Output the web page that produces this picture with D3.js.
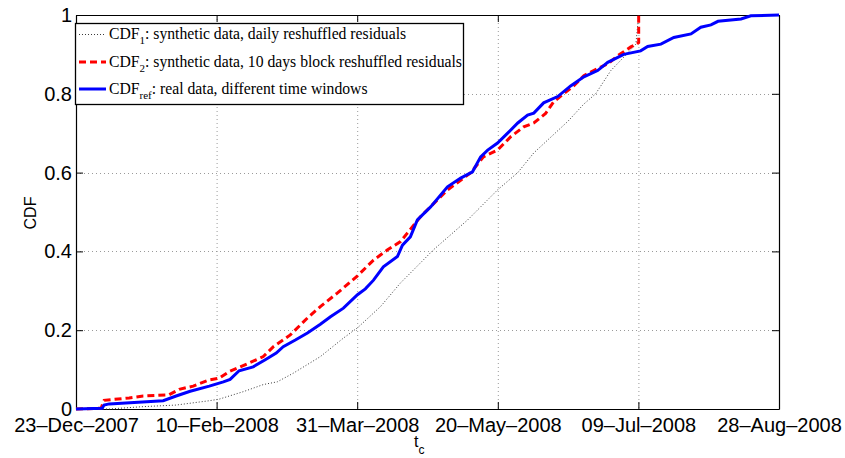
<!DOCTYPE html>
<html>
<head>
<meta charset="utf-8">
<script src="https://cdn.jsdelivr.net/npm/d3@7"></script>
<style>
  html, body { margin: 0; padding: 0; background: #fff; }
  svg { display: block; }
</style>
</head>
<body>
<svg id="chart" width="845" height="458"></svg>
<script>
// ---- Data (x in days since 23-Dec-2007) ----
const xTickDays = [0, 50, 100, 150, 200, 250];
const xTickLabels = ["23\u2013Dec\u20132007", "10\u2013Feb\u20132008", "31\u2013Mar\u20132008", "20\u2013May\u20132008", "09\u2013Jul\u20132008", "28\u2013Aug\u20132008"];
const yTickValues = [0, 0.2, 0.4, 0.6, 0.8, 1];
const yTickLabels = ["0", "0.2", "0.4", "0.6", "0.8", "1"];

const cdf1Days = [0, 11.8, 23.9, 35.6, 47.4, 50.9, 59.5, 66.6, 71.6, 77.3, 86.9, 95.1, 100.1, 108.3, 115.4, 118.9, 127.1, 139.3, 149.9, 157.1, 162.8, 174.9, 180.6, 184.8, 190.2, 194.8, 199.1, 200.1];
const cdf1Vals = [0, 0.0, 0.006, 0.01, 0.021, 0.025, 0.044, 0.062, 0.069, 0.091, 0.133, 0.18, 0.206, 0.26, 0.32, 0.345, 0.404, 0.48, 0.556, 0.6, 0.65, 0.73, 0.774, 0.8, 0.859, 0.893, 0.926, 1.0];

const cdf2Days = [0, 8.9, 10.0, 18.9, 23.9, 33.1, 36.7, 41.7, 47.4, 50.9, 54.5, 61.6, 66.6, 70.2, 76.2, 82.3, 86.9, 92.9, 100.1, 105.8, 110.8, 115.4, 117.9, 122.5, 132.1, 140.3, 144.9, 149.9, 154.6, 159.2, 162.8, 167.0, 169.9, 173.4, 177.0, 180.6, 186.6, 189.1, 192.7, 197.3, 199.4, 200.1, 200.1];
const cdf2Vals = [0, 0.002, 0.022, 0.028, 0.033, 0.036, 0.05, 0.058, 0.074, 0.078, 0.095, 0.117, 0.133, 0.158, 0.188, 0.231, 0.26, 0.294, 0.338, 0.378, 0.404, 0.425, 0.447, 0.488, 0.556, 0.599, 0.64, 0.657, 0.691, 0.716, 0.726, 0.75, 0.78, 0.80, 0.82, 0.846, 0.868, 0.876, 0.897, 0.919, 0.926, 0.93, 1.0];

const cdfRefDays = [0, 9.3, 10.0, 11.8, 19.2, 31.0, 35.6, 40.6, 47.4, 52.4, 54.8, 58.0, 63.0, 67.3, 71.2, 73.7, 78.0, 82.3, 86.9, 90.5, 95.1, 100.1, 102.9, 105.8, 109.3, 114.3, 116.1, 118.9, 121.4, 126.1, 132.1, 136.8, 141.0, 143.9, 146.4, 149.9, 153.5, 157.1, 160.6, 162.8, 166.3, 171.3, 175.9, 180.6, 185.5, 189.1, 194.8, 200.8, 203.3, 208.0, 212.6, 218.7, 222.2, 225.8, 228.3, 236.5, 240.0, 250];
const cdfRefVals = [0, 0.002, 0.01, 0.013, 0.016, 0.021, 0.033, 0.045, 0.058, 0.069, 0.075, 0.097, 0.107, 0.125, 0.142, 0.158, 0.175, 0.193, 0.215, 0.234, 0.256, 0.29, 0.305, 0.327, 0.361, 0.387, 0.416, 0.437, 0.48, 0.513, 0.564, 0.586, 0.602, 0.64, 0.657, 0.675, 0.70, 0.726, 0.746, 0.751, 0.777, 0.793, 0.82, 0.843, 0.859, 0.88, 0.90, 0.909, 0.92, 0.926, 0.943, 0.952, 0.969, 0.975, 0.984, 0.99, 0.998, 1.0];

const legendMain = ["CDF", "CDF", "CDF"];
const legendSubs = ["1", "2", "ref"];
const legendRest = [": synthetic data, daily reshuffled residuals", ": synthetic data, 10 days block reshuffled residuals", ": real data, different time windows"];

// ---- Layout ----
const L = 76, R = 779, T = 15, B = 409;
const svg = d3.select("#chart");
const x = d3.scaleLinear().domain([0, 250]).range([L, R]);
const y = d3.scaleLinear().domain([0, 1]).range([B, T]);

// grid
const grid = svg.append("g").attr("stroke", "#9a9a9a").attr("stroke-width", 1).attr("stroke-dasharray", "1,3");
xTickDays.slice(1, -1).forEach(d => {
  grid.append("line").attr("x1", x(d) + 0.5).attr("x2", x(d) + 0.5).attr("y1", T).attr("y2", B);
});
yTickValues.slice(1, -1).forEach(v => {
  grid.append("line").attr("x1", L).attr("x2", R).attr("y1", Math.round(y(v)) + 0.5).attr("y2", Math.round(y(v)) + 0.5);
});

// axes (MATLAB box style)
const axisFont = "'Liberation Sans', Arial, Helvetica, sans-serif";
const xAxisB = d3.axisBottom(x).tickValues(xTickDays).tickFormat((d, i) => xTickLabels[i]).tickSizeInner(-7).tickSizeOuter(0).tickPadding(9);
const gxb = svg.append("g").attr("transform", `translate(0,${B})`).call(xAxisB);
gxb.selectAll("text").attr("font-size", 20).attr("font-family", axisFont).attr("fill", "#000");
const xAxisT = d3.axisTop(x).tickValues(xTickDays).tickFormat("").tickSizeInner(-7).tickSizeOuter(0);
svg.append("g").attr("transform", `translate(0,${T})`).call(xAxisT);

const yAxisL = d3.axisLeft(y).tickValues(yTickValues).tickFormat((d, i) => yTickLabels[i]).tickSizeInner(-7).tickSizeOuter(0).tickPadding(4);
const gyl = svg.append("g").attr("transform", `translate(${L},0)`).call(yAxisL);
gyl.selectAll("text").attr("font-size", 20).attr("font-family", axisFont).attr("fill", "#000");
const yAxisR = d3.axisRight(y).tickValues(yTickValues).tickFormat("").tickSizeInner(-7).tickSizeOuter(0);
svg.append("g").attr("transform", `translate(${R},0)`).call(yAxisR);
svg.selectAll(".domain").attr("stroke", "#000").attr("stroke-width", 1.2);
svg.selectAll(".tick line").attr("stroke", "#000");

// lines
const mk = (dx, dv) => dx.map((d, i) => [d, dv[i]]);
const line = d3.line().x(d => x(d[0])).y(d => y(d[1]));
const plot = svg.append("g");
plot.append("path").datum(mk(cdf1Days, cdf1Vals)).attr("d", line)
  .attr("fill", "none").attr("stroke", "#3a3a3a").attr("stroke-width", 1).attr("stroke-dasharray", "1,2");
plot.append("path").datum(mk(cdf2Days, cdf2Vals)).attr("d", line)
  .attr("fill", "none").attr("stroke", "#ff0000").attr("stroke-width", 3).attr("stroke-dasharray", "7,4");
plot.append("path").datum(mk(cdfRefDays, cdfRefVals)).attr("d", line)
  .attr("fill", "none").attr("stroke", "#0000ff").attr("stroke-width", 3);

// axis labels
svg.append("text").attr("transform", "translate(36,213) rotate(-90)").attr("text-anchor", "middle")
  .attr("font-family", axisFont).attr("font-size", 16).text("CDF");
const xl = svg.append("text").attr("x", 414).attr("y", 447).attr("font-family", axisFont).attr("font-size", 16);
xl.append("tspan").text("t");
xl.append("tspan").attr("dy", 7).attr("font-size", 12).text("c");

// legend
const lg = svg.append("g");
lg.append("rect").attr("x", 75.5).attr("y", 23.5).attr("width", 388).attr("height", 81)
  .attr("fill", "#fff").attr("stroke", "#000").attr("stroke-width", 1.3);
const sampleStyles = [
  {stroke: "#3a3a3a", w: 1, dash: "1,2"},
  {stroke: "#ff0000", w: 3, dash: "7,4"},
  {stroke: "#0000ff", w: 3, dash: null}
];
const rowY = [34.5, 62, 89];
const serif = "'Liberation Serif', 'Times New Roman', Times, serif";
legendMain.forEach((m, i) => {
  const s = sampleStyles[i];
  const ln = lg.append("line").attr("x1", 79).attr("x2", 106).attr("y1", rowY[i]).attr("y2", rowY[i])
    .attr("stroke", s.stroke).attr("stroke-width", s.w);
  if (s.dash) ln.attr("stroke-dasharray", s.dash);
  const t = lg.append("text").attr("x", 109).attr("y", rowY[i] + 4.5).attr("font-family", serif).attr("font-size", 15.7).attr("fill", "#000");
  t.append("tspan").text(m);
  t.append("tspan").attr("dy", 5).attr("font-size", 11).text(legendSubs[i]);
  t.append("tspan").attr("dy", -5).text(legendRest[i]);
});
</script>
</body>
</html>
